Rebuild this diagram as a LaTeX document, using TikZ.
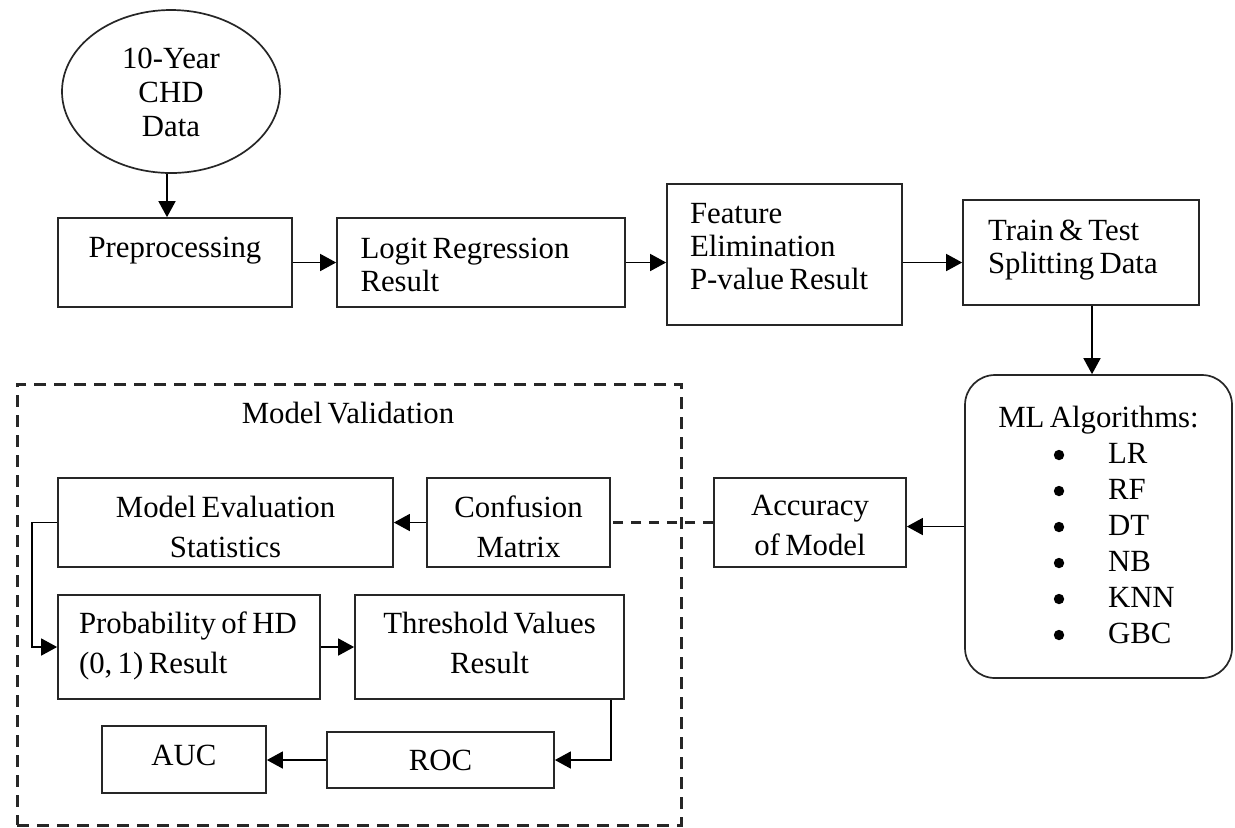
\documentclass[tikz,border=0pt]{standalone}
\usepackage{fontspec}
\setmainfont{Liberation Serif}[WordSpace=0.7]
\usetikzlibrary{arrows.meta,shapes.geometric,calc}
\begin{document}
\begin{tikzpicture}[x=0.5pt,y=-0.5pt,
  box/.style={draw=black!85, line width=0.85pt, rectangle, inner sep=0pt, text height=10pt},
  rbox/.style={box, rounded corners=15pt},
  ell/.style={draw=black!85, line width=0.85pt, ellipse, inner sep=0pt, text height=10pt},
  fa/.style={font=\fontsize{15.4}{16.5}\selectfont},
  fb/.style={font=\fontsize{15.4}{17}\selectfont},
  fc/.style={font=\fontsize{15.4}{18}\selectfont},
  fd/.style={font=\fontsize{15.4}{20}\selectfont},
  arr/.style={draw=black, line width=0.8pt, -{Triangle[length=8pt,width=8.5pt]}},
  dline/.style={draw=black!85, line width=1.2pt, dash pattern=on 5pt off 4pt},
  dbox/.style={draw=black!85, line width=1.5pt, dash pattern=on 6pt off 4pt, rectangle, inner sep=0pt}
]
\fill[white] (0,0) rectangle (1235,827);
\useasboundingbox (0,0) rectangle (1235,827);

% top row
\node[ell, fb, minimum width=109pt, minimum height=81.5pt, text width=60pt, align=flush center, text depth=33.5pt] (data) at (171,91.5) {10-Year\\CHD\\Data};
\node[box, fa, minimum width=117pt, minimum height=44.5pt, text width=117pt, align=flush center, text depth=15.5pt] (pre) at (175,262.5) {Preprocessing};
\node[box, fa, minimum width=144pt, minimum height=44.5pt, text width=120.5pt, align=flush left, text depth=14.5pt] (logit) at (481,262.5) {Logit Regression\\Result};
\node[box, fa, minimum width=117.5pt, minimum height=70.5pt, text width=94.5pt, align=flush left, text depth=41.5pt] (feat) at (784.5,254.5) {Feature\\Elimination\\\mbox{P-value Result}};
\node[box, fa, minimum width=118pt, minimum height=52.5pt, text width=93pt, align=flush left, text depth=22.5pt] (train) at (1081,252.5) {Train \& Test\\Splitting Data};

% ML algorithms
\node[rbox, fc, minimum width=133.5pt, minimum height=151.5pt, text width=133.5pt, align=flush center, text depth=109.5pt] (ml) at (1098.5,526.5) {ML Algorithms:\\
\makebox[98.5pt][l]{\hspace*{54pt}LR}\\
\makebox[98.5pt][l]{\hspace*{54pt}RF}\\
\makebox[98.5pt][l]{\hspace*{54pt}DT}\\
\makebox[98.5pt][l]{\hspace*{54pt}NB}\\
\makebox[98.5pt][l]{\hspace*{54pt}KNN}\\
\makebox[98.5pt][l]{\hspace*{54pt}GBC}};
\foreach \by in {455,491,527,563,599,635}
  \fill[black] (1059,\by) circle (2.6pt);

\node[box, fd, minimum width=96pt, minimum height=44.5pt, text width=96pt, align=flush center, text depth=17.5pt] (acc) at (810,522.5) {Accuracy\\of Model};

% model validation
\node[dbox, minimum width=332pt, minimum height=220.5pt] (valid) at (349,604.5) {};
\node[fa, inner sep=0pt] (vtitle) at (348,413) {Model Validation};

\node[box, fd, minimum width=91.5pt, minimum height=44.5pt, text width=91.5pt, align=flush center, text depth=15.5pt] (conf) at (518.5,522.5) {Confusion\\Matrix};
\node[box, fd, minimum width=167.5pt, minimum height=44.5pt, text width=167.5pt, align=flush center, text depth=15.5pt] (meval) at (225.5,522.5) {Model Evaluation\\Statistics};
\node[box, fd, minimum width=131pt, minimum height=52pt, text width=110pt, align=flush left, text depth=24pt] (prob) at (189,647) {\mbox{Probability of HD}\\(0, 1) Result};
\node[box, fd, minimum width=134.5pt, minimum height=52pt, text width=134.5pt, align=flush center, text depth=24pt] (thr) at (489.5,647) {Threshold Values\\Result};
\node[box, fa, minimum width=113.5pt, minimum height=28pt, text width=113.5pt, align=flush center, text depth=0pt] (roc) at (440.5,760) {ROC};
\node[box, fa, minimum width=82pt, minimum height=33.5pt, text width=82pt, align=flush center, text depth=4.5pt] (auc) at (184,759.5) {AUC};

% connectors
\draw[arr] ([xshift=-2pt]data.south) -- ([xshift=-2pt]data.south |- pre.north);
\draw[arr] (pre.east) -- (logit.west);
\draw[arr] (logit.east) -- (logit.east -| feat.west);
\draw[arr] (feat.east |- logit.east) -- (train.west |- logit.east);
\draw[arr] ([xshift=5.5pt]train.south) -- ([xshift=5.5pt]train.south |- ml.north);
\draw[arr] (ml.west) -- (ml.west -| acc.east);
\draw[dline] (acc.west) -- (acc.west -| conf.east);
\draw[arr] (conf.west) -- (meval.east);
\draw[arr] (meval.west) -- ++(-12.5pt,0) |- (prob.west);
\draw[arr] (prob.east) -- (thr.west);
\draw[arr] ([xshift=-7pt]thr.south east) |- (roc.east);
\draw[arr] (roc.west) -- (roc.west -| auc.east);
\end{tikzpicture}
\end{document}
